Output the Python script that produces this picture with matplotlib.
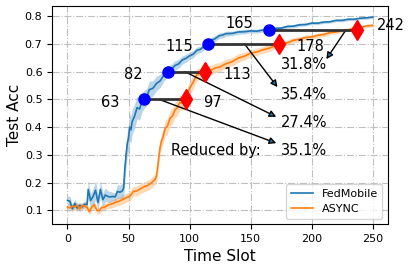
import matplotlib.pyplot as plt

# FedMobile: mean test accuracy and band half width per time slot
fm_t = [0, 2, 4, 6, 8, 10, 12, 14, 16,
        17, 19, 21, 23, 25, 27, 29, 31, 33, 35, 37, 39, 41, 43, 45,
        46, 47, 48, 49, 50, 51, 52, 53, 55, 57, 59, 61, 63,
        65, 67, 70, 73, 76, 79, 82, 85, 88, 91, 94, 97, 100, 103, 106, 109, 112,
        115, 118, 121, 124, 127, 130,
        135, 140, 145, 150, 155, 160, 165, 170, 175, 180, 185, 190,
        195, 200, 205, 210, 215, 220, 225, 230, 235, 240, 245, 250]
fm_acc = [0.135, 0.133, 0.105, 0.125, 0.108, 0.118, 0.112, 0.122, 0.12,
          0.175, 0.135, 0.15, 0.172, 0.128, 0.175, 0.138, 0.155, 0.15, 0.148, 0.15, 0.148, 0.168, 0.165, 0.17,
          0.18, 0.25, 0.30, 0.34, 0.36, 0.40, 0.39, 0.42, 0.44, 0.47, 0.465, 0.49, 0.50,
          0.51, 0.535, 0.54, 0.558, 0.567, 0.588, 0.60, 0.608, 0.622, 0.628, 0.642, 0.648, 0.657, 0.663, 0.677, 0.681, 0.692,
          0.70, 0.713, 0.719, 0.729, 0.732, 0.737,
          0.738, 0.743, 0.744, 0.747, 0.746, 0.750, 0.751, 0.756, 0.757, 0.763, 0.764, 0.769,
          0.770, 0.775, 0.775, 0.779, 0.780, 0.785, 0.785, 0.789, 0.789, 0.793, 0.794, 0.797]
fm_std = [0.015, 0.018, 0.012, 0.015, 0.012, 0.012, 0.01, 0.012, 0.012,
          0.035, 0.025, 0.03, 0.035, 0.025, 0.03, 0.025, 0.025, 0.02, 0.02, 0.015, 0.015, 0.025, 0.025, 0.03,
          0.04, 0.045, 0.045, 0.045, 0.05, 0.05, 0.05, 0.045, 0.045, 0.04, 0.04, 0.035, 0.032,
          0.03, 0.03, 0.028, 0.026, 0.024, 0.022, 0.02, 0.018, 0.017, 0.016, 0.015, 0.014, 0.013, 0.013, 0.012, 0.012, 0.012,
          0.012, 0.012, 0.011, 0.01, 0.01, 0.009,
          0.008, 0.008, 0.008, 0.007, 0.007, 0.007, 0.006, 0.006, 0.006, 0.006, 0.006, 0.006,
          0.005, 0.005, 0.005, 0.005, 0.005, 0.005, 0.005, 0.005, 0.005, 0.005, 0.005, 0.005]

# ASYNC baseline
as_t = [0, 2, 4, 6, 8, 10, 12, 14, 16, 18, 20, 22, 24, 26, 28, 30,
        33, 36, 39, 42, 45, 48, 51, 54, 57, 60, 63, 66, 69, 72,
        73, 74, 75, 76, 77, 78,
        80, 82, 84, 86, 88, 90, 92, 94, 97, 100, 103, 106, 109,
        113, 117, 121, 125, 130, 135, 140, 145, 150, 155, 160, 165, 170, 175,
        180, 185, 190, 195, 200, 205, 210, 215, 220, 225, 230, 235, 240, 245, 250]
as_acc = [0.112, 0.108, 0.115, 0.112, 0.118, 0.105, 0.118, 0.115, 0.11, 0.095, 0.112, 0.12, 0.10, 0.098, 0.11, 0.11,
          0.118, 0.122, 0.128, 0.132, 0.138, 0.145, 0.15, 0.168, 0.17, 0.178, 0.185, 0.19, 0.2, 0.212,
          0.225, 0.26, 0.30, 0.33, 0.35, 0.36,
          0.395, 0.405, 0.432, 0.44, 0.462, 0.47, 0.488, 0.487, 0.505, 0.54, 0.562, 0.59, 0.592,
          0.60, 0.604, 0.613, 0.617, 0.629, 0.636, 0.649, 0.656, 0.666, 0.671, 0.679, 0.684, 0.694, 0.70,
          0.704, 0.713, 0.717, 0.723, 0.725, 0.731, 0.734, 0.741, 0.743, 0.749, 0.751, 0.757, 0.759, 0.765, 0.767]
as_std = [0.012, 0.014, 0.012, 0.012, 0.014, 0.012, 0.012, 0.012, 0.012, 0.012, 0.012, 0.012, 0.012, 0.012, 0.012, 0.012,
          0.012, 0.014, 0.014, 0.015, 0.016, 0.016, 0.017, 0.017, 0.018, 0.018, 0.018, 0.018, 0.019, 0.02,
          0.025, 0.025, 0.025, 0.025, 0.025, 0.025,
          0.028, 0.028, 0.028, 0.028, 0.028, 0.028, 0.027, 0.026, 0.025, 0.025, 0.024, 0.022, 0.02,
          0.018, 0.017, 0.017, 0.016, 0.016, 0.015, 0.015, 0.014, 0.013, 0.013, 0.012, 0.012, 0.011, 0.011,
          0.01, 0.01, 0.009, 0.009, 0.008, 0.008, 0.008, 0.007, 0.007, 0.007, 0.006, 0.006, 0.006, 0.006, 0.006]

# time slot where each method first reaches the target accuracy
targets = [0.5, 0.6, 0.7, 0.75]
fm_hit = [63, 82, 115, 165]
as_hit = [97, 113, 178, 242]
as_mark = [97, 113, 173, 237]   # where the diamonds sit on the curve

# label layout (offsets in data units)
fm_lab_off = [(-28, -0.013), (-28, -0.012), (-23, -0.01), (-24, 0.022)]
as_lab_off = [(22, -0.013), (26, -0.01), (26, -0.01), (28, 0.018)]
arrow_start = [(75, 0.5), (96, 0.6), (145, 0.7), (228, 0.75)]
arrow_end = [(171, 0.342), (171, 0.437), (172, 0.544), (212, 0.645)]
pct_pos = [(174.5, 0.317), (174.5, 0.418), (174.5, 0.519), (174.5, 0.624)]


def main():
    fig, ax = plt.subplots(figsize=(4.11, 2.70), dpi=100)
    fig.subplots_adjust(left=0.127, right=0.944, bottom=0.17, top=0.978)

    lo = [a - s for a, s in zip(fm_acc, fm_std)]
    hi = [a + s for a, s in zip(fm_acc, fm_std)]
    ax.fill_between(fm_t, lo, hi, color='C0', alpha=0.3, lw=0)
    ax.plot(fm_t, fm_acc, color='C0', lw=1.2, label='FedMobile')

    lo = [a - s for a, s in zip(as_acc, as_std)]
    hi = [a + s for a, s in zip(as_acc, as_std)]
    ax.fill_between(as_t, lo, hi, color='C1', alpha=0.3, lw=0)
    ax.plot(as_t, as_acc, color='C1', lw=1.2, label='ASYNC')

    for i, y in enumerate(targets):
        ax.plot([fm_hit[i], as_mark[i]], [y, y], color='#333333', lw=2, zorder=4)
        ax.plot(fm_hit[i], y, 'o', color='blue', ms=8, zorder=5)
        ax.plot(as_mark[i], y, 'd', color='red', ms=10, zorder=5)

        dx, dy = fm_lab_off[i]
        ax.text(fm_hit[i] + dx, y + dy, str(fm_hit[i]), fontsize=10.5,
                ha='center', va='center')
        dx, dy = as_lab_off[i]
        ax.text(as_mark[i] + dx, y + dy, str(as_hit[i]), fontsize=10.5,
                ha='center', va='center')

        ax.annotate('', xy=arrow_end[i], xytext=arrow_start[i],
                    arrowprops=dict(arrowstyle='-|>', ec='k', lw=1,
                                    shrinkA=0, shrinkB=0))
        pct = (as_hit[i] - fm_hit[i]) / as_hit[i] * 100
        ax.text(pct_pos[i][0], pct_pos[i][1], f'{pct:.1f}%', fontsize=10.5,
                ha='left', va='center')

    ax.text(85, 0.317, 'Reduced by:', fontsize=10.5, ha='left', va='center')

    ax.set_xlim(-12.5, 262.5)
    ax.set_ylim(0.05, 0.837)
    ax.set_xticks([0, 50, 100, 150, 200, 250])
    ax.set_yticks([0.1, 0.2, 0.3, 0.4, 0.5, 0.6, 0.7, 0.8])
    ax.tick_params(labelsize=8)
    ax.grid(linestyle='-.', color='0.75', lw=0.8)
    ax.set_xlabel('Time Slot', fontsize=11)
    ax.set_ylabel('Test Acc', fontsize=11, labelpad=2)
    ax.legend(loc='lower right', fontsize=8)

    fig.savefig('out.png', dpi=100)


if __name__ == '__main__':
    main()
